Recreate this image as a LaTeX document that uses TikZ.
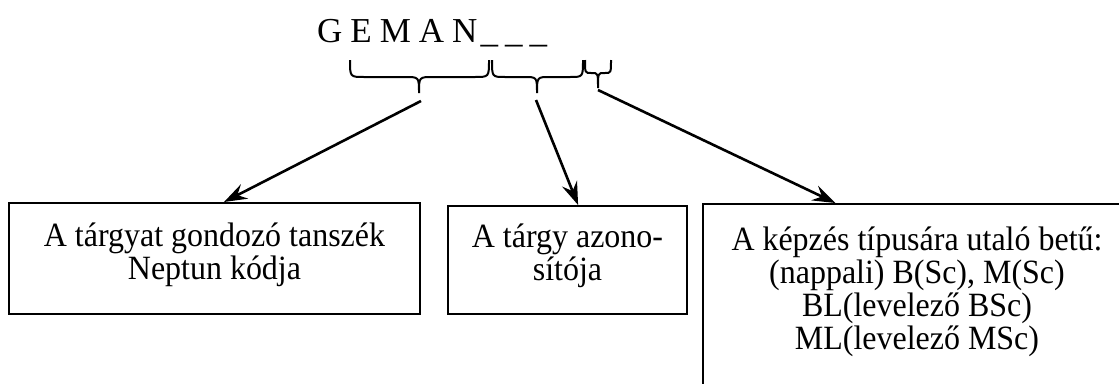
\documentclass[tikz,border=0pt]{standalone}
\usepackage{fontspec}
\setmainfont{Liberation Serif}
\newfontfamily\boxfont[FakeStretch=0.94]{Liberation Serif}
\usetikzlibrary{arrows.meta,calc}
\begin{document}
\begin{tikzpicture}[x=1pt,y=-1pt,
  boxst/.style={draw, line width=2pt, inner sep=0pt},
  txt/.style={font=\boxfont\fontsize{34}{33}\selectfont, align=center},
  brc/.style={line width=2pt},
  arr/.style={line width=2.6pt, -{Stealth[length=23pt,width=16pt,inset=8pt]}}]
\useasboundingbox (0,0) rectangle (1119,383);
% title
\node[anchor=base west, inner sep=0pt, font=\fontsize{35}{35}\selectfont] (title) at (317,42)
  {G\kern8pt E\kern8pt M\kern8pt A\kern8pt N\kern3pt\_\kern7pt\_\kern7pt\_};
% braces
\draw[brc] (350,60) .. controls (350,77) .. (364,77) -- (405,77)
  .. controls (419,77) .. (419,93) .. controls (419,77) .. (433,77) -- (475,77)
  .. controls (489,77) .. (489,60);
\draw[brc] (492,60) .. controls (492,77) .. (505,77) -- (524,77)
  .. controls (537,77) .. (537,93) .. controls (537,77) .. (550,77) -- (570,77)
  .. controls (583,77) .. (583,60);
\draw[brc] (585,60) .. controls (585,73) .. (591,73) -- (592,73)
  .. controls (598,73) .. (598,88) .. controls (598,73) .. (604,73) -- (605,73)
  .. controls (611,73) .. (611,60);
\coordinate (s1) at (421,101);
\coordinate (s2) at (536,100);
\coordinate (s3) at (598,90);
% boxes
\node[boxst, txt, anchor=north west, minimum width=411pt, minimum height=111pt] (box1) at (8,202)
  {A tárgyat gondozó tanszék\\Neptun kódja\rule[-15pt]{0pt}{15pt}};
\node[boxst, txt, anchor=north west, minimum width=239pt, minimum height=108pt] (box2) at (447,205)
  {A tárgy azono-\\sítója\rule[-16pt]{0pt}{16pt}};
\node[boxst, anchor=north west, minimum width=440pt, minimum height=240pt] (box3) at (702,203) {};
\node[txt, anchor=north, inner sep=0pt] (box3text) at (917,227)
  {A képzés típusára utaló betű:\\(nappali) B(Sc), M(Sc)\\BL(levelező BSc)\\ML(levelező MSc)};
% arrows
\draw[arr] (s1) -- ($(box1.north west)!0.523!(box1.north east)$);
\draw[arr] (s2) -- ($(box2.north west)!0.544!(box2.north east)$);
\draw[arr] (s3) -- ($(box3.north west)!0.302!(box3.north east)$);
\end{tikzpicture}
\end{document}
